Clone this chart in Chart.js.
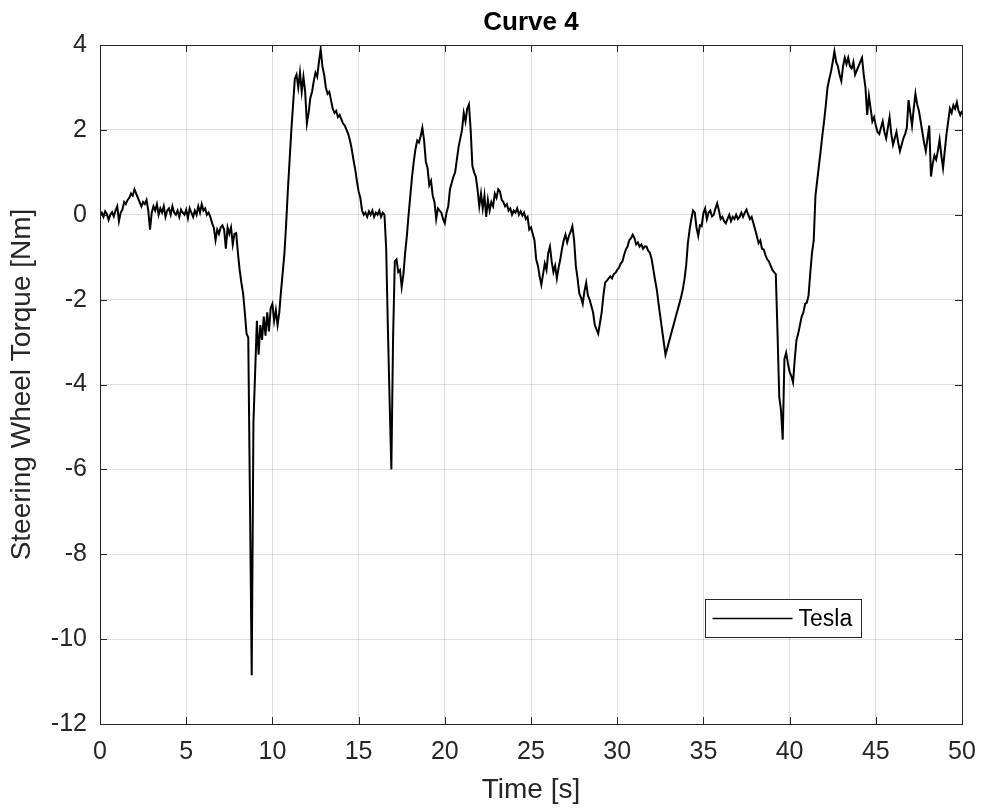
<!DOCTYPE html>
<html>
<head>
<meta charset="utf-8">
<title>Curve 4</title>
<script src="https://cdn.jsdelivr.net/npm/chart.js@4.4.1/dist/chart.umd.min.js"></script>
<style>
  html, body { margin: 0; padding: 0; background: #fff; }
</style>
</head>
<body>
<canvas id="torqueChart" width="982" height="809"></canvas>
<script>
// steering wheel torque, logged every 0.1 s (one row per second)
const sampleStep = 0.1;
const seriesName = 'Tesla';
const torque = [
  0.0, 0.05, -0.05, 0.08, 0.02, -0.12, 0.0, 0.06, -0.04, 0.1,
  0.2, -0.15, 0.05, 0.12, 0.3, 0.25, 0.35, 0.4, 0.5, 0.45,
  0.6, 0.5, 0.4, 0.3, 0.2, 0.3, 0.25, 0.35, 0.1, -0.35,
  0.05, 0.2, 0.1, 0.25, 0.0, 0.15, 0.05, 0.2, -0.05, 0.1,
  0.15, 0.0, 0.2, 0.05, 0.0, 0.1, -0.05, 0.12, 0.05, 0.0,
  0.12, -0.08, 0.15, 0.05, -0.05, 0.1, 0.0, 0.2, 0.05, 0.25,
  0.1, 0.15, 0.0, 0.05, -0.05, -0.2, -0.3, -0.6, -0.35, -0.45,
  -0.3, -0.25, -0.35, -0.8, -0.3, -0.45, -0.3, -0.7, -0.45, -0.43,
  -0.9, -1.3, -1.6, -1.85, -2.3, -2.8, -2.9, -6.8, -10.85, -4.9,
  -3.7, -2.5, -3.3, -2.6, -2.95, -2.4, -2.85, -2.3, -2.75, -2.2,
  -2.1, -2.5, -2.25, -2.6, -2.3, -1.8, -1.35, -0.9, -0.2, 0.6,
  1.3, 2.0, 2.6, 3.2, 3.3, 3.0, 3.35, 2.9, 3.25, 2.9,
  2.15, 2.4, 2.75, 2.9, 3.15, 3.35, 3.25, 3.6, 3.9, 3.5,
  3.3, 3.0, 2.85, 2.9, 2.7, 2.5, 2.4, 2.45, 2.3, 2.35,
  2.25, 2.15, 2.1, 2.0, 1.9, 1.75, 1.55, 1.3, 1.08, 0.8,
  0.55, 0.4, 0.1, 0.0, 0.05, -0.05, 0.08, 0.0, 0.1, -0.05,
  0.05, 0.0, 0.1, -0.05, 0.05, 0.0, -0.8, -2.7, -4.4, -6.0,
  -2.9, -1.1, -1.05, -1.35, -1.3, -1.7, -1.4, -0.9, -0.5, 0.0,
  0.45, 0.9, 1.25, 1.55, 1.75, 1.7, 1.85, 2.05, 1.75, 1.25,
  1.1, 0.7, 0.8, 0.45, 0.3, -0.1, 0.15, 0.1, 0.05, -0.1,
  -0.2, 0.05, 0.2, 0.6, 0.75, 0.9, 1.0, 1.3, 1.6, 1.8,
  2.0, 2.4, 2.2, 2.5, 2.6, 2.0, 1.15, 1.0, 0.9, 0.6,
  0.2, 0.5, 0.15, 0.45, -0.05, 0.35, 0.1, 0.3, 0.2, 0.5,
  0.4, 0.6, 0.55, 0.35, 0.3, 0.2, 0.25, 0.1, 0.15, 0.0,
  0.1, 0.05, 0.15, 0.0, 0.08, -0.02, 0.05, -0.1, -0.05, -0.35,
  -0.3, -0.45, -0.6, -1.05, -1.2, -1.45, -1.65, -1.4, -1.15, -1.3,
  -0.9, -0.75, -1.1, -1.35, -1.2, -1.5, -1.25, -1.05, -0.8, -0.6,
  -0.47, -0.65, -0.5, -0.4, -0.27, -0.6, -1.2, -1.5, -1.85, -1.95,
  -2.1, -1.8, -1.6, -1.9, -2.0, -2.15, -2.3, -2.6, -2.7, -2.8,
  -2.55, -2.3, -1.9, -1.6, -1.55, -1.5, -1.45, -1.5, -1.4, -1.37,
  -1.3, -1.25, -1.15, -1.1, -0.95, -0.82, -0.75, -0.6, -0.55, -0.47,
  -0.55, -0.7, -0.65, -0.75, -0.7, -0.8, -0.75, -0.75, -0.85, -0.9,
  -1.05, -1.3, -1.55, -1.77, -2.1, -2.4, -2.7, -3.0, -3.3, -3.15,
  -3.0, -2.85, -2.7, -2.55, -2.4, -2.25, -2.1, -1.95, -1.77, -1.53,
  -1.2, -0.67, -0.35, -0.1, 0.1, 0.05, -0.3, -0.5, -0.25, -0.27,
  0.04, 0.15, -0.1, 0.05, 0.1, -0.04, 0.0, 0.15, 0.27, 0.1,
  -0.1, -0.05, -0.15, -0.2, -0.1, 0.0, -0.15, -0.05, -0.1, 0.0,
  -0.1, -0.05, 0.05, -0.05, 0.05, 0.12, 0.0, -0.1, -0.05, -0.2,
  -0.35, -0.5, -0.67, -0.6, -0.8, -0.82, -0.95, -1.05, -1.1, -1.2,
  -1.3, -1.35, -1.4, -2.8, -4.3, -4.6, -5.3, -3.4, -3.25, -3.5,
  -3.7, -3.8, -3.95, -3.4, -2.95, -2.8, -2.6, -2.4, -2.3, -2.1,
  -2.07, -1.9, -1.37, -0.9, -0.6, 0.45, 0.8, 1.15, 1.5, 1.87,
  2.2, 2.58, 3.0, 3.2, 3.37, 3.6, 3.85, 3.6, 3.5, 3.3,
  3.15, 3.5, 3.7, 3.55, 3.7, 3.5, 3.45, 3.6, 3.3, 3.4,
  3.5, 3.6, 3.7, 3.3, 3.0, 2.35, 2.8, 2.5, 2.2, 2.3,
  2.1, 1.95, 1.9, 2.05, 2.2, 1.95, 1.8, 2.05, 2.3, 1.9,
  1.65, 1.8, 1.95, 1.7, 1.5, 1.65, 1.8, 1.9, 2.05, 2.7,
  2.4, 2.1, 2.5, 2.85, 2.6, 2.45, 2.2, 1.95, 1.7, 1.5,
  1.8, 2.1, 0.9, 1.2, 1.4, 1.3, 1.5, 1.77, 1.4, 1.1,
  1.5, 1.9, 2.2, 2.5, 2.4, 2.58, 2.5, 2.65, 2.45, 2.35,
  2.45
];
const timeRange = [0, 50];
const torqueRange = [-12, 4];
const timeStep = 5;
const torqueStep = 2;

const FONT = '"Liberation Sans", Arial, Helvetica, sans-serif';
const AXIS_COLOR = '#262626';
const GRID_COLOR = 'rgba(38,38,38,0.15)';

// MATLAB-style axes: closed box, inward ticks, title over the axes, legend box inside
const matlabAxes = {
  id: 'matlabAxes',
  afterDraw(chart) {
    const { ctx, chartArea: a, scales } = chart;
    const tl = 7;
    ctx.save();
    ctx.strokeStyle = AXIS_COLOR;
    ctx.lineWidth = 1;
    ctx.beginPath();
    scales.x.ticks.forEach(t => {
      const px = Math.round(scales.x.getPixelForValue(t.value)) + 0.5;
      ctx.moveTo(px, a.bottom); ctx.lineTo(px, a.bottom - tl);
      ctx.moveTo(px, a.top); ctx.lineTo(px, a.top + tl);
    });
    scales.y.ticks.forEach(t => {
      const py = Math.round(scales.y.getPixelForValue(t.value)) + 0.5;
      ctx.moveTo(a.left, py); ctx.lineTo(a.left + tl, py);
      ctx.moveTo(a.right, py); ctx.lineTo(a.right - tl, py);
    });
    ctx.stroke();
    ctx.strokeRect(Math.round(a.left) + 0.5, Math.round(a.top) + 0.5,
      Math.round(a.right - a.left), Math.round(a.bottom - a.top));

    // title
    ctx.fillStyle = '#000';
    ctx.font = 'bold 26px ' + FONT;
    ctx.textAlign = 'center';
    ctx.textBaseline = 'middle';
    ctx.fillText('Curve 4', (a.left + a.right) / 2, 23);

    // legend
    const ds = chart.data.datasets[0];
    const bx = Math.round(a.right) - 256.5, by = Math.round(a.bottom) - 124.5, bw = 156, bh = 38;
    ctx.fillStyle = '#fff';
    ctx.fillRect(bx, by, bw, bh);
    ctx.strokeStyle = AXIS_COLOR;
    ctx.lineWidth = 1;
    ctx.strokeRect(bx, by, bw, bh);
    ctx.strokeStyle = ds.borderColor;
    ctx.lineWidth = 1.5;
    ctx.beginPath();
    ctx.moveTo(bx + 7, by + 19);
    ctx.lineTo(bx + 87, by + 19);
    ctx.stroke();
    ctx.fillStyle = '#000';
    ctx.font = '23px ' + FONT;
    ctx.textAlign = 'left';
    ctx.fillText(ds.label, bx + 93, by + 20);
    ctx.restore();
  }
};

new Chart(document.getElementById('torqueChart'), {
  type: 'line',
  data: {
    datasets: [{
      label: seriesName,
      data: torque.map((v, i) => ({ x: +(i * sampleStep).toFixed(1), y: v })),
      borderColor: '#000',
      borderWidth: 2,
      pointRadius: 0,
      tension: 0,
      fill: false,
    }],
  },
  options: {
    responsive: false,
    animation: false,
    devicePixelRatio: 1,
    layout: { padding: { top: 45, right: 20, left: 0, bottom: 0 } },
    plugins: { legend: { display: false }, title: { display: false }, tooltip: { enabled: false } },
    scales: {
      x: {
        type: 'linear', min: timeRange[0], max: timeRange[1],
        afterFit: s => { s.height = 85; s.paddingLeft = 0; s.paddingRight = 0; },
        ticks: { stepSize: timeStep, font: { family: FONT, size: 25 }, color: AXIS_COLOR, padding: 13, maxRotation: 0 },
        grid: { color: GRID_COLOR, drawTicks: false },
        border: { display: false },
        title: { display: true, text: 'Time [s]', font: { family: FONT, size: 28 }, color: AXIS_COLOR, padding: { top: 0, bottom: 2 } },
      },
      y: {
        min: torqueRange[0], max: torqueRange[1],
        afterFit: s => { s.width = 100; s.paddingTop = 0; s.paddingBottom = 0; },
        ticks: { stepSize: torqueStep, font: { family: FONT, size: 25 }, color: AXIS_COLOR, padding: 13 },
        grid: { color: GRID_COLOR, drawTicks: false },
        border: { display: false },
        title: { display: true, text: 'Steering Wheel Torque [Nm]', font: { family: FONT, size: 28 }, color: AXIS_COLOR, padding: { top: 5, bottom: 0 } },
      },
    },
  },
  plugins: [matlabAxes],
});
</script>
</body>
</html>
